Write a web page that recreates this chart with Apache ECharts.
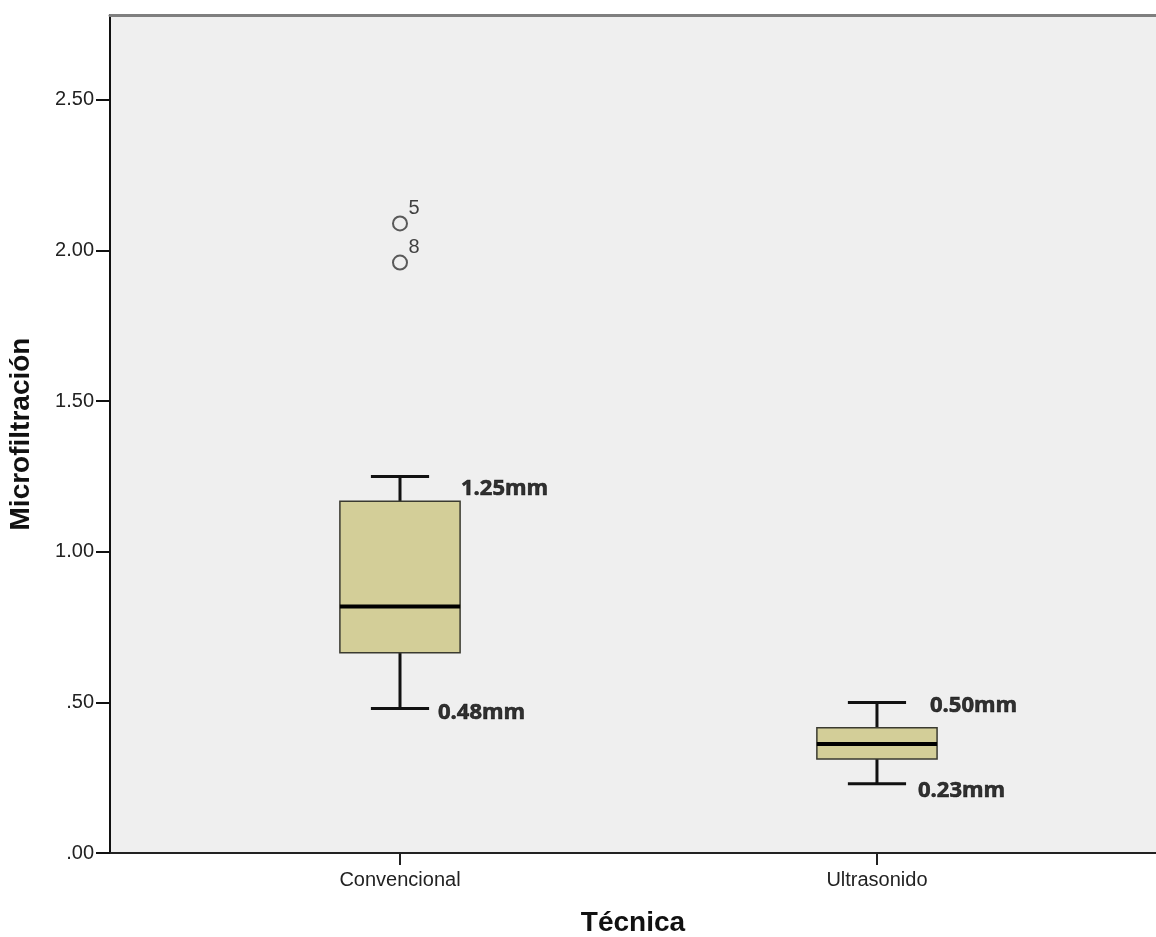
<!DOCTYPE html>
<html>
<head>
<meta charset="utf-8">
<script src="https://cdn.jsdelivr.net/npm/echarts@6/dist/echarts.min.js"></script>
<style>
html,body{margin:0;padding:0;background:#ffffff;}
#chart{width:1156px;height:937px;}
</style>
</head>
<body>
<div id="chart"></div>
<script>
// ---- data ----
const categories = ['Convencional', 'Ultrasonido'];
const whiskerLow = [0.48, 0.23];
const q1 = [0.665, 0.312];
const median = [0.818, 0.362];
const q3 = [1.168, 0.416];
const whiskerHigh = [1.25, 0.50];

const outlierCategory = [0, 0];
const outlierValues = [2.09, 1.96];
const outlierIds = ['5', '8'];

const yTicks = [0, 0.5, 1, 1.5, 2, 2.5];
const yTickLabels = ['.00', '.50', '1.00', '1.50', '2.00', '2.50'];

const annotationCategory = [0, 0, 1, 1];
const annotationValues = [1.25, 0.48, 0.50, 0.23];
const annotationTexts = ['1.25mm', '0.48mm', '0.50mm', '0.23mm'];

// ---- styles ----
const annotationOffsets = [[61, 12], [38, 4], [53, 3], [41, 7]];
const BOX_W = 0.252;   // in category units
const CAP_W = 0.122;
const axisFont = "'Liberation Sans', Arial, sans-serif";

const boxData = categories.map((c, i) => [i, whiskerLow[i], q1[i], median[i], q3[i], whiskerHigh[i]]);
const outlierData = outlierValues.map((v, i) => [outlierCategory[i], v, outlierIds[i]]);
const annotationData = annotationValues.map((v, i) => ({
  value: [annotationCategory[i], v, annotationTexts[i]],
  label: { offset: annotationOffsets[i] }
}));

const chart = echarts.init(document.getElementById('chart'), null, { renderer: 'canvas' });

function renderBox(params, api) {
  const x = api.value(0);
  const lo = api.coord([x, api.value(1)]);
  const b1 = api.coord([x, api.value(2)]);
  const md = api.coord([x, api.value(3)]);
  const b3 = api.coord([x, api.value(4)]);
  const hi = api.coord([x, api.value(5)]);
  const hw = api.size([BOX_W, 0])[0] / 2;
  const cw = api.size([CAP_W, 0])[0] / 2;
  const cx = lo[0];
  const lineStyle = { stroke: '#111', lineWidth: 3 };
  return {
    type: 'group',
    children: [
      { type: 'line', shape: { x1: cx, y1: hi[1], x2: cx, y2: b3[1] }, style: lineStyle },
      { type: 'line', shape: { x1: cx, y1: b1[1], x2: cx, y2: lo[1] }, style: lineStyle },
      { type: 'line', shape: { x1: cx - cw, y1: hi[1], x2: cx + cw, y2: hi[1] }, style: lineStyle },
      { type: 'line', shape: { x1: cx - cw, y1: lo[1], x2: cx + cw, y2: lo[1] }, style: lineStyle },
      { type: 'rect', shape: { x: cx - hw, y: b3[1], width: hw * 2, height: b1[1] - b3[1] },
        style: { fill: '#d3ce98', stroke: '#3a3a30', lineWidth: 1.5 } },
      { type: 'line', shape: { x1: cx - hw, y1: md[1], x2: cx + hw, y2: md[1] },
        style: { stroke: '#000', lineWidth: 4 } }
    ]
  };
}

const option = {
  animation: false,
  backgroundColor: '#ffffff',
  grid: { left: 110, right: 0, top: 15, bottom: 84, show: true, backgroundColor: '#efefef', borderWidth: 0,
    containLabel: false, outerBoundsMode: 'none' },
  xAxis: [
    {
      type: 'value', min: -0.608, max: 1.585, position: 'bottom',
      axisLine: { show: true, onZero: false, lineStyle: { color: '#222', width: 2 } },
      axisTick: { show: true, customValues: [0, 1], length: 12, lineStyle: { color: '#222', width: 2 } },
      axisLabel: { customValues: [0, 1], formatter: v => categories[Math.round(v)] || '',
        fontSize: 20, color: '#222', margin: 17, fontFamily: axisFont },
      splitLine: { show: false },
      name: 'Técnica', nameLocation: 'middle', nameGap: 56,
      nameTextStyle: { fontSize: 28, fontWeight: 'bold', color: '#111', fontFamily: axisFont }
    },
    {
      type: 'value', min: -0.608, max: 1.585, position: 'top',
      axisLine: { show: true, onZero: false, lineStyle: { color: '#7f7f7f', width: 3 } },
      axisTick: { show: false }, axisLabel: { show: false }, splitLine: { show: false }
    }
  ],
  yAxis: {
    type: 'value', min: 0, max: 2.782,
    axisLine: { show: true, onZero: false, lineStyle: { color: '#111', width: 2 } },
    axisTick: { show: true, customValues: yTicks, length: 14, lineStyle: { color: '#111', width: 2 } },
    axisLabel: { customValues: yTicks, formatter: v => yTickLabels[yTicks.indexOf(Math.round(v * 100) / 100)] || '',
      fontSize: 20, color: '#222', margin: 16, fontFamily: axisFont },
    splitLine: { show: false },
    name: 'Microfiltración', nameLocation: 'middle', nameGap: 75, nameRotate: 90,
    nameTextStyle: { fontSize: 28, fontWeight: 'bold', color: '#111', fontFamily: axisFont }
  },
  series: [
    {
      type: 'custom', renderItem: renderBox, data: boxData,
      encode: { x: 0, y: [1, 2, 3, 4, 5] }, silent: true, clip: false
    },
    {
      type: 'scatter', data: outlierData, symbol: 'circle', symbolSize: 14,
      itemStyle: { color: 'rgba(0,0,0,0)', borderColor: '#333', borderWidth: 2 },
      label: { show: true, formatter: p => p.value[2], position: 'inside', offset: [14, -15],
        fontSize: 20, color: '#111', fontFamily: axisFont },
      silent: true
    },
    {
      type: 'scatter', data: annotationData, symbolSize: 1,
      itemStyle: { color: 'rgba(0,0,0,0)' },
      label: { show: true, formatter: p => p.value[2], position: 'inside', align: 'left', verticalAlign: 'middle',
        fontSize: 22, fontWeight: 'bold', color: '#000', textBorderColor: '#000', textBorderWidth: 0.6,
        fontFamily: "'Open Sans', sans-serif" },
      silent: true
    }
  ]
};
chart.setOption(option);
</script>
</body>
</html>
